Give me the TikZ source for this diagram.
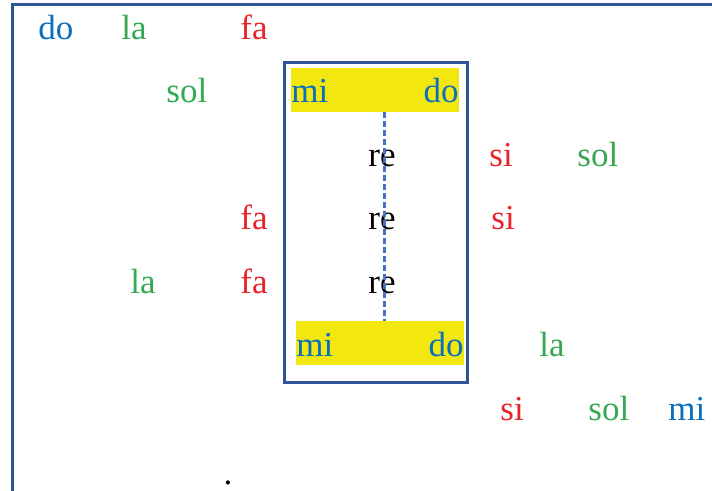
\documentclass[tikz,border=0pt]{standalone}
\usepackage{fontspec}
\setmainfont{Liberation Serif}
\usepackage{tikz}
\usepackage{xcolor}
\usetikzlibrary{positioning,calc}
\definecolor{noteblue}{HTML}{0A6FBD}
\definecolor{notegreen}{HTML}{35A853}
\definecolor{notered}{HTML}{E8242A}
\definecolor{framecol}{HTML}{2F5597}
\definecolor{dashcol}{HTML}{4472C4}
\definecolor{barfill}{HTML}{F2E70F}
\tikzset{
  note/.style={anchor=base west,inner sep=0pt,font=\fontsize{17.5}{20}\selectfont},
  bluenote/.style={note,text=noteblue},
  greennote/.style={note,text=notegreen},
  rednote/.style={note,text=notered},
  blacknote/.style={note,text=black},
  yellowbar/.style={fill=barfill,draw=none,minimum width=84pt,minimum height=22pt,inner sep=0pt},
  framebox/.style={draw=framecol,line width=1.5pt,minimum width=91.5pt,minimum height=160pt,inner sep=0pt},
  framerule/.style={draw=framecol,line width=1.5pt},
  dashline/.style={draw=dashcol,line width=1.2pt,dash pattern=on 3pt off 1.5pt}
}
\begin{document}
\begin{tikzpicture}[x=0.5pt,y=0.5pt]
  \useasboundingbox (0,0) rectangle (712,491);
  \clip (0,0) rectangle (712,491);
  % outer frame, cut by the page edge
  \draw[framerule] (12,-6) -- (12,486) -- (720,486);
  % the box in the middle
  \node[framebox] (keybox) at (375.5,268) {};
  \node[yellowbar] (topbar) at (375,401) {};
  \node[yellowbar] (botbar) at (380,147.5) {};
  \node[bluenote] (mitop) at (291,388) {mi};
  \node[bluenote,anchor=base east] (dotop) at (459,388) {do};
  \node[bluenote] (mibot) at (296,134) {mi};
  \node[bluenote,anchor=base east] (dobot) at (464,134) {do};
  \node[blacknote] (reA) at (368,324) {re};
  \node[blacknote] (reB) at (368,261) {re};
  \node[blacknote] (reC) at (368,197) {re};
  \draw[dashline] ($(reA.center |- topbar.south)+(2.5,0)$) -- ($(reA.center |- botbar.north)+(2.5,0)$);
  % notes around it
  \node[bluenote] (doA) at (38,451) {do};
  \node[greennote] (laA) at (121,451) {la};
  \node[rednote] (faA) at (240,451) {fa};
  \node[greennote] (solA) at (166,388) {sol};
  \node[rednote] (siA) at (489,324) {si};
  \node[greennote] (solB) at (577,324) {sol};
  \node[rednote] (faB) at (240,261) {fa};
  \node[rednote] (siB) at (491,261) {si};
  \node[greennote] (laB) at (130,197) {la};
  \node[rednote] (faC) at (240,197) {fa};
  \node[greennote] (laC) at (539,134) {la};
  \node[rednote] (siC) at (500,70) {si};
  \node[greennote] (solC) at (588,70) {sol};
  \node[bluenote] (miC) at (668,70) {mi};
  \node[blacknote,anchor=base] (stop) at (228,6) {.};
\end{tikzpicture}
\end{document}
